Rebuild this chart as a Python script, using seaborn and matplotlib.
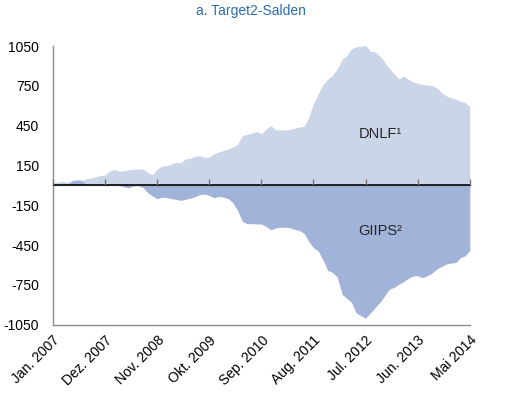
import matplotlib
matplotlib.use("Agg")
import matplotlib.pyplot as plt
import seaborn as sns
import pandas as pd

# Monthly Target2 balances, Jan 2007 - May 2014 (EUR bn)
dnlf = [20, 25, 30, 25, 28, 30, 35, 50, 55, 65,
        75, 78, 110, 120, 108, 110, 118, 122, 125, 122,
        100, 80, 125, 145, 150, 160, 175, 170, 200, 205,
        220, 225, 212, 215, 240, 252, 265, 275, 290, 310,
        375, 385, 395, 407, 390, 425, 450, 420, 418, 420,
        420, 432, 440, 445, 510, 620, 690, 760, 800, 830,
        880, 950, 975, 1030, 1045, 1050, 1055, 1010, 1005, 975,
        930, 880, 840, 805, 825, 800, 782, 770, 760, 757,
        752, 735, 700, 675, 660, 650, 635, 625, 595]
giips = [5, 8, 5, 5, 35, 42, 40, 10, 0, 0,
         0, -2, 0, 0, 0, -10, -18, -3, -2, -15,
         -55, -80, -100, -88, -92, -100, -105, -112, -105, -95,
         -85, -68, -65, -75, -92, -82, -88, -100, -130, -190,
         -270, -288, -288, -290, -290, -310, -335, -320, -315, -315,
         -318, -330, -338, -360, -420, -470, -495, -560, -640, -655,
         -690, -820, -850, -880, -960, -980, -1000, -960, -920, -880,
         -830, -780, -768, -742, -725, -700, -682, -680, -695, -680,
         -660, -630, -610, -592, -585, -580, -545, -530, -490]
tick_labels = ["Jan. 2007", "Dez. 2007", "Nov. 2008", "Okt. 2009", "Sep. 2010",
               "Aug. 2011", "Jul. 2012", "Jun. 2013", "Mai 2014"]
y_ticks = [-1050, -750, -450, -150, 150, 450, 750, 1050]

dates = pd.date_range("2007-01-01", periods=len(dnlf), freq="MS")
df = pd.DataFrame({"date": dates, "DNLF": dnlf, "GIIPS": giips})

sns.set_style("white")
plt.rcParams["font.family"] = ["Liberation Sans", "DejaVu Sans"]

light = "#cad5e8"
dark = "#a1b3d9"

fig = plt.figure(figsize=(5.09, 4.01), dpi=100)
ax = fig.add_axes([0.104, 0.190, 0.819, 0.695])

sns.lineplot(x="date", y="DNLF", data=df, ax=ax, color=light, linewidth=0)
sns.lineplot(x="date", y="GIIPS", data=df, ax=ax, color=dark, linewidth=0)
ax.fill_between(df["date"], 0, df["DNLF"], color=light, linewidth=0)
ax.fill_between(df["date"], 0, df["GIIPS"], color=dark, linewidth=0)
ax.axhline(0, color="black", linewidth=1.2, zorder=3)

ax.set_xlim(dates[0], dates[-1])
ax.set_ylim(-1050, 1050)
ax.set_yticks(y_ticks)
ax.set_yticklabels([str(v) for v in y_ticks], fontsize=10)
ax.set_xticks(dates[::11])
ax.set_xticklabels(tick_labels, rotation=45, ha="right", rotation_mode="anchor", fontsize=10)
ax.set_xlabel("")
ax.set_ylabel("")

for side in ["top", "right"]:
    ax.spines[side].set_visible(False)
for side in ["left", "bottom"]:
    ax.spines[side].set_color("#8c8c8c")
    ax.spines[side].set_linewidth(1.0)
ax.tick_params(axis="y", length=3, color="#8c8c8c", pad=7, labelcolor="black")
ax.tick_params(axis="x", length=0, pad=6, labelcolor="black")

# tick marks sit on the zero line
sec = ax.secondary_xaxis(0.5)
sec.set_zorder(5)
sec.set_xticks(dates[::11])
sec.set_xticklabels([])
sec.tick_params(axis="x", length=4, width=1, color="#7a7a7a", direction="out")
sec.spines["bottom"].set_visible(False)

ax.text(dates[69], 390, "DNLF\u00b9", fontsize=10.5, ha="center", va="center")
ax.text(dates[69], -345, "GIIPS\u00b2", fontsize=10.5, ha="center", va="center")

fig.text(0.493, 0.972, "a. Target2-Salden", color="#2a6db0", fontsize=10, ha="center", va="center")

fig.savefig("out.png", dpi=100)
